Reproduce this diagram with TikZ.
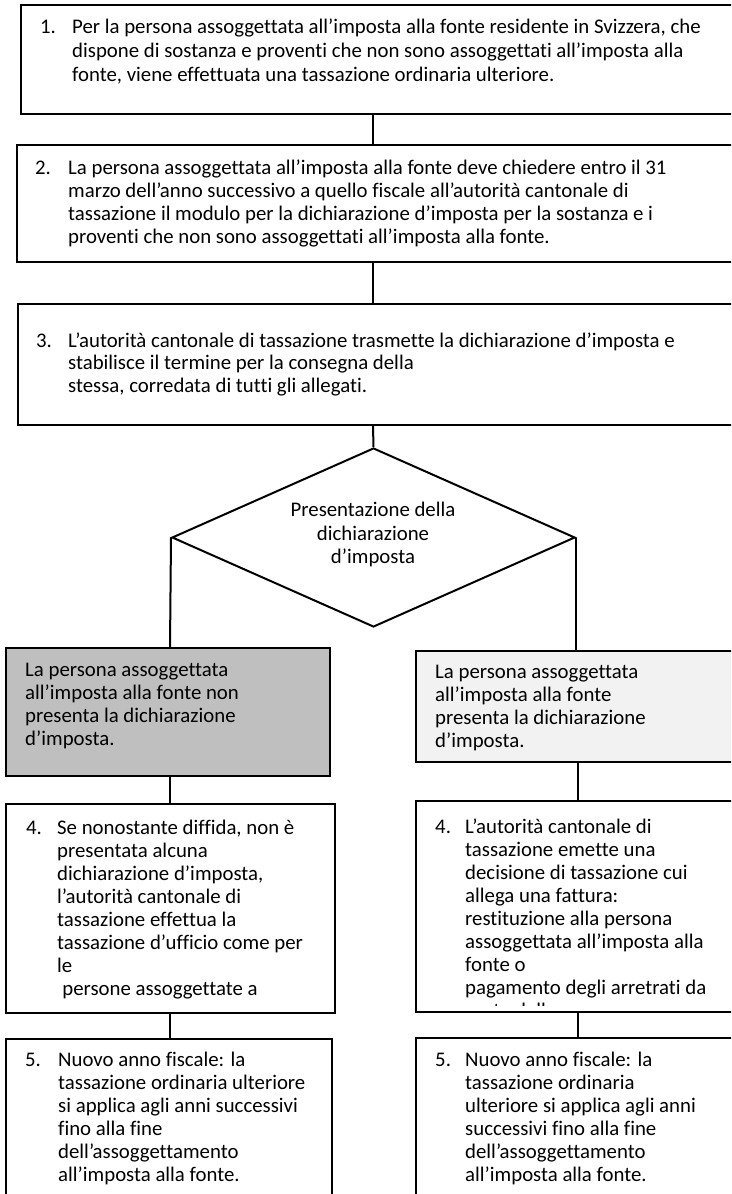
\documentclass[tikz,border=0pt]{standalone}
\usepackage{fontspec}
\setmainfont{Carlito}[Ligatures={NoCommon}]
\usetikzlibrary{shapes.geometric}
\definecolor{boxgray}{HTML}{BFBFBF}
\definecolor{boxlight}{HTML}{F2F2F2}
\tikzset{
  flowbox/.style={draw=black, line width=2pt, rectangle, inner sep=0pt, anchor=north west},
  conn/.style={draw=black, line width=2pt},
  txt/.style={anchor=base west, inner sep=0pt, font=\fontsize{20.8}{23}\selectfont},
  num/.style={anchor=base west, inner sep=0pt, font=\fontsize{20.8}{23}\selectfont},
}
\newcommand{\ltext}[2]{\parbox[t]{#1pt}{\fontsize{20.8}{23}\selectfont #2}}
\begin{document}
\begin{tikzpicture}[x=1pt,y=-1pt]
\useasboundingbox (0,0) rectangle (731,1194);
\clip (0,0) rectangle (731,1194);
\fill[white] (0,0) rectangle (731,1194);
% boxes
\node[flowbox, minimum width=760pt, minimum height=109pt] (b1) at (20,4) {};
\node[flowbox, minimum width=760pt, minimum height=117pt] (b2) at (16,144) {};
\node[flowbox, minimum width=760pt, minimum height=121pt] (b3) at (17,303) {};
\node[draw=black, line width=2pt, diamond, inner sep=0pt, minimum width=403pt, minimum height=179pt] (d) at (373.5,537.5) {};
\node[flowbox, fill=boxgray, minimum width=324pt, minimum height=128pt] (g) at (5,647) {};
\node[flowbox, fill=boxlight, minimum width=360pt, minimum height=111pt] (l) at (415,650) {};
\node[flowbox, minimum width=329pt, minimum height=209pt] (l4) at (5,803) {};
\node[flowbox, minimum width=360pt, minimum height=211pt] (r4) at (415,800) {};
\node[flowbox, minimum width=326pt, minimum height=220pt] (l5) at (5,1038) {};
\node[flowbox, minimum width=360pt, minimum height=220pt] (r5) at (415,1037) {};
% connector columns
\coordinate (cm) at (373,0);
\coordinate (cl) at (170,0);
\coordinate (cr) at (578,0);
\draw[conn] (b1.south -| cm) -- (b2.north -| cm);
\draw[conn] (b2.south -| cm) -- (b3.north -| cm);
\draw[conn] (b3.south -| cm) -- (d.north);
\draw[conn] (d.west) -- (g.north -| cl);
\draw[conn] (d.east) -- (l.north -| d.east);
\draw[conn] (g.south -| cl) -- (l4.north -| cl);
\draw[conn] (l.south -| cr) -- (r4.north -| cr);
\draw[conn] (l4.south -| cl) -- (l5.north -| cl);
\draw[conn] (r4.south -| cr) -- (r5.north -| cr);
% texts
\node[num] (n1) at (40,33) {1.};
\node[txt] (t1) at (72,33) {\parbox[t]{700pt}{\fontsize{20.8}{24}\selectfont Per la persona assoggettata all’imposta alla fonte residente in Svizzera, che\\dispone di sostanza e proventi che non sono assoggettati all’imposta alla\\fonte, viene effettuata una tassazione ordinaria ulteriore.}};
\node[num] (n2) at (35,174) {2.};
\node[txt] (t2) at (68,174) {\ltext{700}{La persona assoggettata all’imposta alla fonte deve chiedere entro il 31\\marzo dell’anno successivo a quello fiscale all’autorità cantonale di\\tassazione il modulo per la dichiarazione d’imposta per la sostanza e i\\proventi che non sono assoggettati all’imposta alla fonte.}};
\node[num] (n3) at (36,347) {3.};
\node[txt] (t3) at (68,347) {\parbox[t]{700pt}{\fontsize{20.8}{22.5}\selectfont L’autorità cantonale di tassazione trasmette la dichiarazione d’imposta e\\stabilisce il termine per la consegna della\\stessa, corredata di tutti gli allegati.}};
\node[txt, anchor=base] (td) at (373,516.7) {\parbox[t]{300pt}{\centering\fontsize{20.8}{23.5}\selectfont Presentazione della\\dichiarazione\\d’imposta}};
\node[txt] (tg) at (25,676) {\ltext{300}{La persona assoggettata\\all’imposta alla fonte non\\presenta la dichiarazione\\d’imposta.}};
\node[txt] (tl) at (435,678) {\ltext{300}{La persona assoggettata\\all’imposta alla fonte\\presenta la dichiarazione\\d’imposta.}};
\node[num] (n4l) at (26,834) {4.};
\node[txt] (t4l) at (57,834) {\ltext{270}{Se nonostante diffida, non è\\presentata alcuna\\dichiarazione d’imposta,\\l’autorità cantonale di\\tassazione effettua la\\tassazione d’ufficio come per\\le\\\hspace*{0.25em}persone assoggettate a}};
\node[num] (n4r) at (435,833) {4.};
\node[txt] (t4r) at (465,833) {\ltext{270}{L’autorità cantonale di\\tassazione emette una\\decisione di tassazione cui\\allega una fattura:\\restituzione alla persona\\assoggettata all’imposta alla\\fonte o\\pagamento degli arretrati da}};
\begin{scope}
\clip (416,996) rectangle (730,1005.5);
\node[txt] (t4rc) at (465,1017.5) {parte della persona};
\end{scope}
\node[num] (n5l) at (25,1066) {5.};
\node[txt] (t5l) at (58,1066) {\ltext{270}{Nuovo anno fiscale: la\\tassazione ordinaria ulteriore\\si applica agli anni successivi\\fino alla fine\\dell’assoggettamento\\all’imposta alla fonte.}};
\node[num] (n5r) at (435,1066) {5.};
\node[txt] (t5r) at (465,1066) {\ltext{270}{Nuovo anno fiscale: la\\tassazione ordinaria\\ulteriore si applica agli anni\\successivi fino alla fine\\dell’assoggettamento\\all’imposta alla fonte.}};
\end{tikzpicture}
\end{document}
